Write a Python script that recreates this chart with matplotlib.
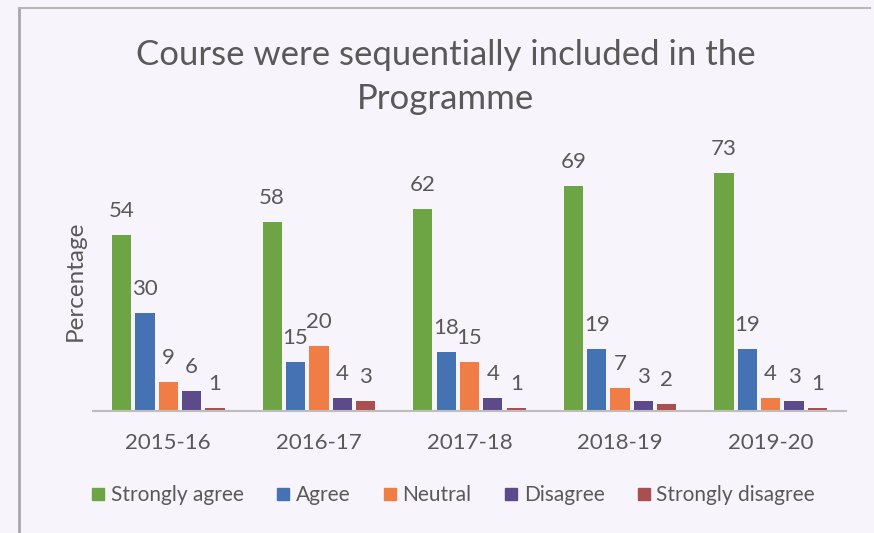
import matplotlib.pyplot as plt
import numpy as np
from matplotlib.lines import Line2D

categories = ["2015-16", "2016-17", "2017-18", "2018-19", "2019-20"]
series_names = ["Strongly agree", "Agree", "Neutral", "Disagree", "Strongly disagree"]
strongly_agree = [54, 58, 62, 69, 73]
agree = [30, 15, 18, 19, 19]
neutral = [9, 20, 15, 7, 4]
disagree = [6, 4, 4, 3, 3]
strongly_disagree = [1, 3, 1, 2, 1]
colors = ["#6ea544", "#4472b3", "#ef7d45", "#5d4a8a", "#a94f4f"]

plt.rcParams['font.family'] = ['Lato', 'DejaVu Sans']
txt = "#595959"
bg = "#f7f4fb"

fig = plt.figure(figsize=(8.74, 5.33), dpi=100, facecolor=bg)
ax = fig.add_axes([93/874, 1-411/533, (846-93)/874, (411-150)/533])
ax.set_facecolor(bg)

data = [strongly_agree, agree, neutral, disagree, strongly_disagree]
x = np.arange(len(categories))
stride = 0.155
width = 0.128
for i, (vals, c, name) in enumerate(zip(data, colors, series_names)):
    pos = x + (i - 2) * stride
    bars = ax.bar(pos, vals, width=width, color=c, label=name)
    for b, v in zip(bars, vals):
        ax.text(b.get_x() + b.get_width()/2, v + 4.3, str(v), ha='center', va='bottom',
                fontsize=16, color=txt)

ax.set_xlim(-0.5, len(categories) - 0.5)
ax.set_ylim(0, 80)
ax.set_xticks(x)
ax.set_xticklabels(categories, fontsize=16, color=txt)
ax.tick_params(axis='x', length=0, pad=16)
ax.set_yticks([])
for s in ['top', 'right', 'left']:
    ax.spines[s].set_visible(False)
ax.spines['bottom'].set_color('#bdbdbd')
ax.spines['bottom'].set_linewidth(1.5)
ax.set_ylabel("Percentage", fontsize=17.5, color=txt, labelpad=5)

fig.text(446/874, 1-77/533, "Course were sequentially included in the\nProgramme",
         ha='center', va='center', fontsize=25, color=txt, linespacing=1.45)

handles = [Line2D([], [], marker='s', linestyle='', markersize=9, color=c) for c in colors]
fig.legend(handles, series_names, loc='center', bbox_to_anchor=(452/874, 1-495/533),
           ncol=5, frameon=False, fontsize=15, labelcolor=txt, handletextpad=0.15,
           columnspacing=1.45, handlelength=0.9)

# scan border lines
fig.add_artist(Line2D([19/874, 19/874], [0, 1-8/533], transform=fig.transFigure, color='#a8a8a8', lw=2))
fig.add_artist(Line2D([19/874, 870/874], [1-8/533, 1-8/533], transform=fig.transFigure, color='#b8b8b8', lw=1.5))

fig.savefig("out.png", dpi=100, facecolor=bg)
